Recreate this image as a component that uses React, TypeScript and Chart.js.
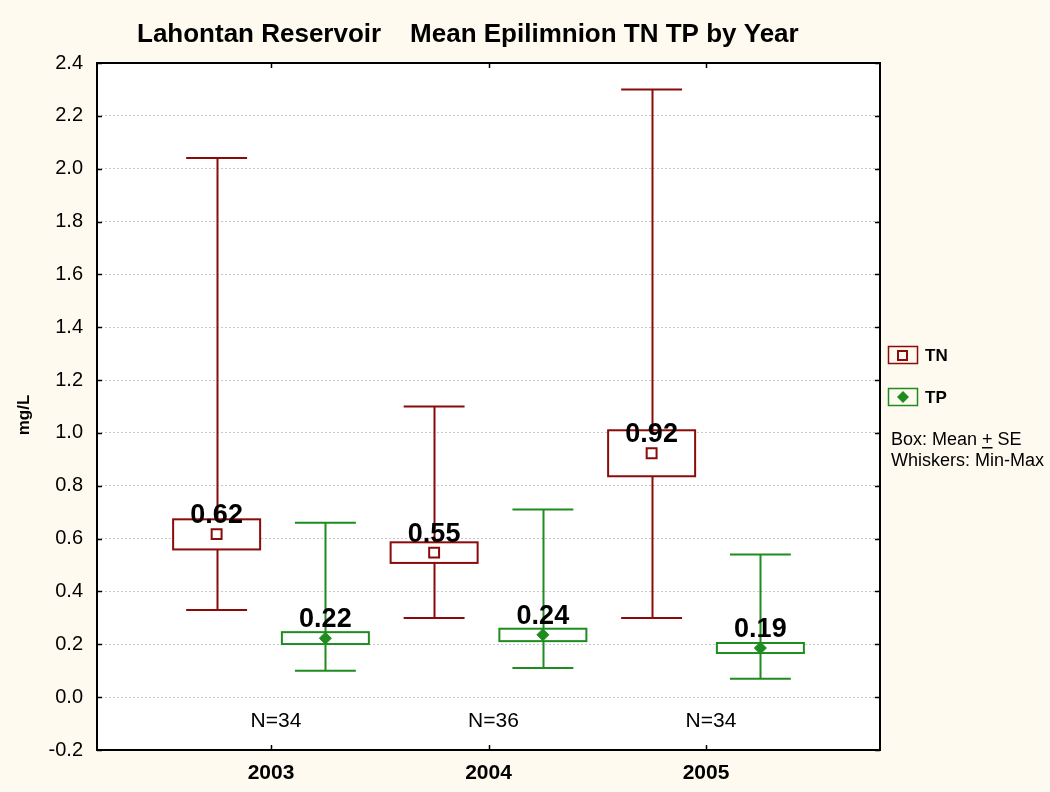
import React, { useEffect, useRef } from "react";
import { Chart, registerables } from "chart.js";

Chart.register(...registerables);

// ---- data ----
const years = [2003, 2004, 2005];
const nLabels = ["N=34", "N=36", "N=34"];
const tnMean = [0.617, 0.547, 0.923];
const tnBoxLow = [0.559, 0.508, 0.836];
const tnBoxHigh = [0.673, 0.586, 1.01];
const tnMin = [0.33, 0.3, 0.3];
const tnMax = [2.04, 1.1, 2.3];
const tpMean = [0.223, 0.236, 0.186];
const tpBoxLow = [0.201, 0.212, 0.167];
const tpBoxHigh = [0.246, 0.259, 0.205];
const tpMin = [0.1, 0.11, 0.07];
const tpMax = [0.66, 0.71, 0.54];
const yMin = -0.2;
const yMax = 2.4;
const yStep = 0.2;

const TN_COLOR = "#8B0A0A";
const TP_COLOR = "#1F8C1F";
const BG = "#FFFAEF";
const FONT = '"Liberation Sans", Arial, Helvetica, sans-serif';

const OFFSET = 0.25;
const BOX_HALF = 0.2;
const CAP_HALF = 0.14;

const boxPlugin = {
  id: "boxPlugin",
  beforeDraw(chart: any) {
    const { ctx, chartArea: a } = chart;
    ctx.save();
    ctx.fillStyle = BG;
    ctx.fillRect(0, 0, chart.width, chart.height);
    ctx.fillStyle = "#ffffff";
    ctx.fillRect(a.left, a.top, a.right - a.left, a.bottom - a.top);
    ctx.restore();
  },
  beforeDatasetsDraw(chart: any) {
    const { ctx } = chart;
    const xs = chart.scales.x;
    const ys = chart.scales.y;
    const series = [
      { off: -OFFSET, lo: tnBoxLow, hi: tnBoxHigh, mn: tnMin, mx: tnMax, color: TN_COLOR },
      { off: OFFSET, lo: tpBoxLow, hi: tpBoxHigh, mn: tpMin, mx: tpMax, color: TP_COLOR },
    ];
    ctx.save();
    series.forEach((s) => {
      years.forEach((yr, i) => {
        const xc = Math.round(xs.getPixelForValue(yr + s.off)) + 0.5;
        const xl = xs.getPixelForValue(yr + s.off - BOX_HALF);
        const xr = xs.getPixelForValue(yr + s.off + BOX_HALF);
        const cl = xs.getPixelForValue(yr + s.off - CAP_HALF);
        const cr = xs.getPixelForValue(yr + s.off + CAP_HALF);
        const pMax = ys.getPixelForValue(s.mx[i]);
        const pMin = ys.getPixelForValue(s.mn[i]);
        const pHi = ys.getPixelForValue(s.hi[i]);
        const pLo = ys.getPixelForValue(s.lo[i]);
        ctx.strokeStyle = s.color;
        ctx.lineWidth = 2;
        ctx.beginPath();
        ctx.moveTo(xc, pMax);
        ctx.lineTo(xc, pMin);
        ctx.moveTo(cl, pMax);
        ctx.lineTo(cr, pMax);
        ctx.moveTo(cl, pMin);
        ctx.lineTo(cr, pMin);
        ctx.stroke();
        ctx.fillStyle = "#ffffff";
        ctx.fillRect(xl, pHi, xr - xl, pLo - pHi);
        ctx.strokeRect(xl, pHi, xr - xl, pLo - pHi);
      });
    });
    ctx.restore();
  },
  afterDraw(chart: any) {
    const { ctx, chartArea: a } = chart;
    const xs = chart.scales.x;
    const ys = chart.scales.y;
    ctx.save();
    // frame
    ctx.strokeStyle = "#000";
    ctx.lineWidth = 2;
    ctx.strokeRect(a.left, a.top, a.right - a.left, a.bottom - a.top);
    // inward ticks
    ctx.lineWidth = 1.5;
    ctx.beginPath();
    for (let v = yMin; v <= yMax + 1e-9; v += yStep) {
      const py = Math.round(ys.getPixelForValue(v)) + 0.5;
      ctx.moveTo(a.left, py);
      ctx.lineTo(a.left + 5, py);
      ctx.moveTo(a.right, py);
      ctx.lineTo(a.right - 5, py);
    }
    years.forEach((yr) => {
      const px = Math.round(xs.getPixelForValue(yr)) + 0.5;
      ctx.moveTo(px, a.top);
      ctx.lineTo(px, a.top + 5);
      ctx.moveTo(px, a.bottom);
      ctx.lineTo(px, a.bottom - 5);
    });
    ctx.stroke();

    // value labels
    ctx.fillStyle = "#000";
    ctx.textAlign = "center";
    ctx.textBaseline = "alphabetic";
    ctx.font = `bold 27px ${FONT}`;
    years.forEach((yr, i) => {
      ctx.fillText(tnMean[i].toFixed(2), xs.getPixelForValue(yr - OFFSET), ys.getPixelForValue(tnMean[i]) - 11);
      ctx.fillText(tpMean[i].toFixed(2), xs.getPixelForValue(yr + OFFSET), ys.getPixelForValue(tpMean[i]) - 11);
    });
    // N labels
    ctx.font = `21px ${FONT}`;
    years.forEach((yr, i) => {
      ctx.fillText(nLabels[i], xs.getPixelForValue(yr) + 5, 727);
    });

    // title
    ctx.textAlign = "left";
    ctx.font = `bold 26px ${FONT}`;
    ctx.fillText("Lahontan Reservoir    Mean Epilimnion TN TP by Year", 137, 42);

    // y axis title
    ctx.save();
    ctx.translate(29, 415);
    ctx.rotate(-Math.PI / 2);
    ctx.textAlign = "center";
    ctx.font = `bold 17px ${FONT}`;
    ctx.fillText("mg/L", 0, 0);
    ctx.restore();

    // legend
    ctx.lineWidth = 1.5;
    ctx.strokeStyle = TN_COLOR;
    ctx.strokeRect(888.5, 346.5, 29, 17);
    ctx.lineWidth = 2;
    ctx.strokeRect(898, 351, 9, 9);
    ctx.lineWidth = 1.5;
    ctx.strokeStyle = TP_COLOR;
    ctx.strokeRect(888.5, 388.5, 29, 17);
    ctx.fillStyle = TP_COLOR;
    ctx.beginPath();
    ctx.moveTo(903, 391);
    ctx.lineTo(909, 397);
    ctx.lineTo(903, 403);
    ctx.lineTo(897, 397);
    ctx.closePath();
    ctx.fill();
    ctx.fillStyle = "#000";
    ctx.font = `bold 17px ${FONT}`;
    ctx.fillText("TN", 925, 361);
    ctx.fillText("TP", 925, 403);
    ctx.font = `18px ${FONT}`;
    const pre = "Box: Mean ";
    ctx.fillText(pre + "+ SE", 891, 445);
    const w0 = ctx.measureText(pre).width;
    const wp = ctx.measureText("+").width;
    ctx.fillRect(891 + w0, 447, wp, 1.5);
    ctx.fillText("Whiskers: Min-Max", 891, 466);
    ctx.restore();
  },
};

export default function App() {
  const ref = useRef<HTMLCanvasElement | null>(null);
  useEffect(() => {
    document.body.style.margin = "0";
    const canvas = ref.current;
    if (!canvas) return;
    const chart = new Chart(canvas, {
      type: "scatter",
      data: {
        datasets: [
          {
            label: "TN",
            data: years.map((yr, i) => ({ x: yr - OFFSET, y: tnMean[i] })),
            pointStyle: "rect",
            pointRadius: 7,
            borderColor: TN_COLOR,
            backgroundColor: "#ffffff",
            borderWidth: 2,
          },
          {
            label: "TP",
            data: years.map((yr, i) => ({ x: yr + OFFSET, y: tpMean[i] })),
            pointStyle: "rectRot",
            pointRadius: 6,
            borderColor: TP_COLOR,
            backgroundColor: TP_COLOR,
            borderWidth: 1,
          },
        ],
      },
      options: {
        animation: false,
        responsive: false,
        maintainAspectRatio: false,
        layout: { padding: { top: 63, right: 170, bottom: 0, left: 0 } },
        plugins: {
          legend: { display: false },
          title: { display: false },
          tooltip: { enabled: false },
        },
        scales: {
          x: {
            type: "linear",
            min: 2002.2,
            max: 2005.8,
            afterBuildTicks: (s: any) => {
              s.ticks = years.map((v) => ({ value: v }));
            },
            afterFit: (s: any) => {
              s.height = 42;
            },
            grid: { display: false, drawTicks: false },
            border: { display: false },
            ticks: {
              color: "#000",
              padding: 11,
              font: { size: 21, weight: "bold", family: FONT },
              callback: (v: any) => String(v),
            },
          },
          y: {
            min: yMin,
            max: yMax,
            afterFit: (s: any) => {
              s.width = 97;
            },
            grid: { color: "#c8c8c8", lineWidth: 1, drawTicks: false },
            border: { display: false, dash: [2, 2] },
            ticks: {
              stepSize: yStep,
              color: "#000",
              padding: 14,
              font: { size: 20, family: FONT },
              callback: (v: any) => (Math.abs(v) < 1e-9 ? "0.0" : Number(v).toFixed(1)),
            },
          },
        },
      },
      plugins: [boxPlugin],
    } as any);
    return () => chart.destroy();
  }, []);
  return (
    <div style={{ position: "absolute", left: 0, top: 0, width: 1050, height: 792 }}>
      <canvas ref={ref} width={1050} height={792} style={{ display: "block", width: 1050, height: 792 }} />
    </div>
  );
}
